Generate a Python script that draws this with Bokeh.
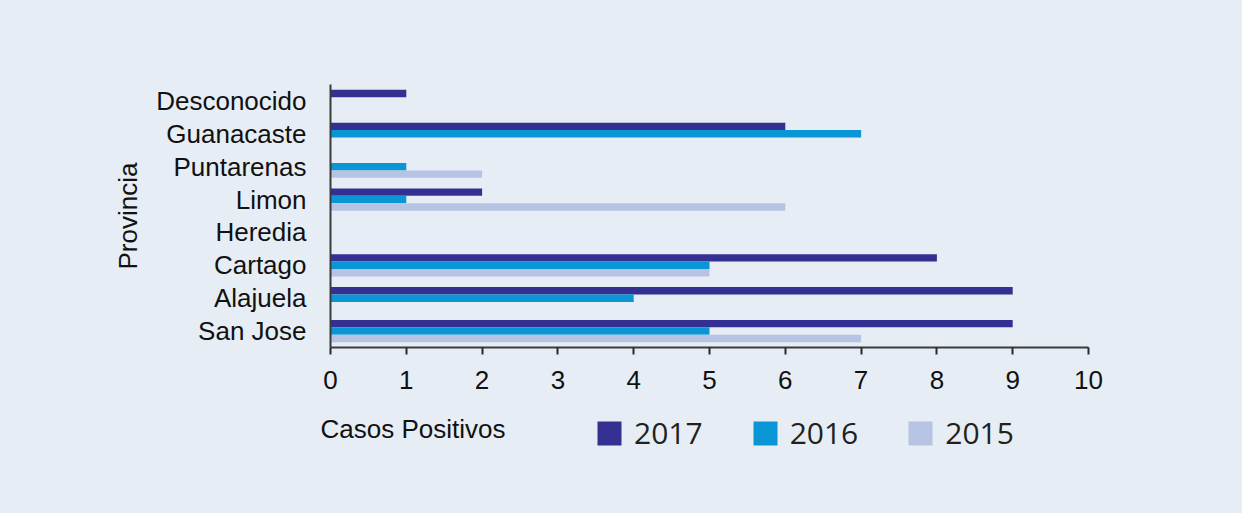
from bokeh.plotting import figure
from bokeh.models import ColumnDataSource, FactorRange, Range1d, Legend, LegendItem, Label, FixedTicker
from bokeh.layouts import column
from bokeh.transform import dodge
from bokeh.embed import file_html
from bokeh.resources import INLINE

provincias = ["San Jose", "Alajuela", "Cartago", "Heredia", "Limon", "Puntarenas", "Guanacaste", "Desconocido"]
casos_2017 = [9, 9, 8, 0, 2, 0, 6, 1]
casos_2016 = [5, 4, 5, 0, 1, 1, 7, 0]
casos_2015 = [7, 0, 5, 0, 6, 2, 0, 0]
years = ["2017", "2016", "2015"]
x_ticks = [0, 1, 2, 3, 4, 5, 6, 7, 8, 9, 10]

BG = "#e6edf5"
COLORS = ["#333092", "#0a96d4", "#b7c3e3"]

src = ColumnDataSource(dict(prov=provincias, y2017=casos_2017, y2016=casos_2016, y2015=casos_2015))

W = 1242
H1 = 410
H2 = 103

p = figure(width=W, height=H1, y_range=FactorRange(*provincias), x_range=Range1d(0, 10),
           output_backend="svg", toolbar_location=None,
           min_border_left=330, min_border_right=154, min_border_top=84, min_border_bottom=H1 - 347)
p.styles = {"background-color": BG}
p.background_fill_color = None
p.border_fill_color = None
p.outline_line_color = None
p.grid.visible = False

h = 0.225
offsets = [h, 0, -h]
for yr, off, col in zip(years, offsets, COLORS):
    p.hbar(y=dodge("prov", off, range=p.y_range), right="y" + yr, left=0, height=h, source=src,
           fill_color=col, line_color=None)

FONT = "Liberation Sans"
FS = "26px"
xa = p.xaxis[0]
xa.ticker = FixedTicker(ticks=x_ticks)
xa.minor_tick_line_color = None
xa.major_tick_out = 7
xa.major_tick_in = 0
xa.axis_line_color = "#3a3a3a"
xa.axis_line_width = 2
xa.major_tick_line_color = "#2a2a2a"
xa.major_tick_line_width = 2
xa.major_label_text_font = FONT
xa.major_label_text_font_size = FS
xa.major_label_text_color = "#111111"
xa.major_label_standoff = 16

ya = p.yaxis[0]
ya.major_tick_line_color = None
ya.minor_tick_line_color = None
ya.axis_line_color = "#3a3a3a"
ya.axis_line_width = 2
ya.major_label_text_font = FONT
ya.major_label_text_font_size = FS
ya.major_label_text_color = "#111111"
ya.major_label_standoff = 18
ya.axis_label = "Provincia"
ya.axis_label_text_font = FONT
ya.axis_label_text_font_size = FS
ya.axis_label_text_font_style = "normal"
ya.axis_label_text_color = "#111111"
ya.axis_label_standoff = 10

# legend row
p2 = figure(width=W, height=H2, x_range=Range1d(0, 1), y_range=Range1d(0, 1),
            x_axis_type=None, y_axis_type=None, output_backend="svg", toolbar_location=None,
            min_border=0)
p2.styles = {"background-color": BG}
p2.background_fill_color = None
p2.border_fill_color = None
p2.outline_line_color = None
p2.grid.visible = False

items = []
for yr, col in zip(years, COLORS):
    r = p2.hbar(y=[0.5], right=[1], left=0, height=1, fill_color=col, line_color=None, visible=False)
    items.append(LegendItem(label=yr, renderers=[r]))

legend = Legend(items=items, orientation="horizontal", location=(264, 60),
                glyph_width=30, glyph_height=30, label_standoff=10, spacing=47,
                padding=0, margin=0, border_line_color=None, background_fill_alpha=0,
                inactive_fill_alpha=0,
                label_text_font="Open Sans", label_text_font_size="30px", label_text_color="#231f20",
                label_height=30, label_text_baseline="middle")
p2.add_layout(legend, "center")

p2.add_layout(Label(x=175, y=85, x_units="screen", y_units="screen", text="Casos Positivos",
                    text_font=FONT, text_font_size=FS, text_color="#111111",
                    text_baseline="middle", text_align="left"), "left")

layout = column(p, p2, spacing=0, styles={"background-color": BG})
open("out.html", "w").write(file_html(layout, INLINE))
